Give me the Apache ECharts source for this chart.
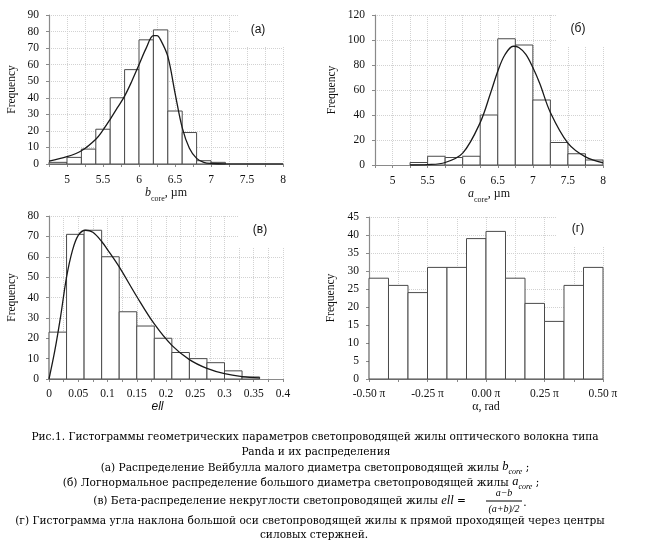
<!DOCTYPE html>
<html>
<head>
<meta charset="utf-8">
<script src="https://cdn.jsdelivr.net/npm/echarts@6/dist/echarts.min.js"></script>
<style>
  html, body { margin: 0; padding: 0; background: #fff; }
  #chart { width: 647px; height: 555px; }
</style>
</head>
<body>
<div id="chart"></div>
<script>
// (а) b_core histogram, bin edges and counts
var aEdges = [4.75, 5.0, 5.2, 5.4, 5.6, 5.8, 6.0, 6.2, 6.4, 6.6, 6.8, 7.0, 7.2];
var aCounts = [1, 4, 9, 21, 40, 57, 75, 81, 32, 19, 2, 1];
// Weibull fit
var aCurveX = [4.75, 5.0, 5.2, 5.4, 5.5, 5.6, 5.7, 5.8, 5.9, 6.0, 6.1, 6.2, 6.25, 6.3, 6.4, 6.5, 6.6, 6.7, 6.8, 6.9, 7.0, 7.2, 8.0];
var aCurveY = [1.8, 4.4, 8, 15, 20.5, 27, 34, 41, 50, 60, 70, 77.5, 77.5, 75, 65, 43, 22, 9.5, 3.4, 1, 0.3, 0, 0];

// (б) a_core histogram
var bEdges = [5.25, 5.5, 5.75, 6.0, 6.25, 6.5, 6.75, 7.0, 7.25, 7.5, 7.75, 8.0];
var bCounts = [2, 7, 6, 7, 40, 101, 96, 52, 18, 9, 4];
var bCurveX = [5.25, 5.5, 5.75, 6.0, 6.25, 6.4, 6.5, 6.6, 6.72, 6.8, 6.9, 7.0, 7.1, 7.25, 7.5, 7.75, 8.0];
var bCurveY = [0, 0.3, 2, 9.5, 34, 58, 75, 88, 95, 94, 88.5, 78, 65, 42, 17.5, 6.5, 1.8];

// (в) ellipticity histogram
var cEdges = [0, 0.03, 0.06, 0.09, 0.12, 0.15, 0.18, 0.21, 0.24, 0.27, 0.30, 0.33, 0.36];
var cCounts = [23, 71, 73, 60, 33, 26, 20, 13, 10, 8, 4, 1];
var cCurveX = [0, 0.01, 0.02, 0.03, 0.04, 0.05, 0.0625, 0.075, 0.09, 0.1, 0.12, 0.15, 0.18, 0.21, 0.24, 0.27, 0.30, 0.33, 0.36];
var cCurveY = [0, 14, 31, 50, 63, 70.5, 73, 72, 67.5, 63.5, 55, 40.5, 27, 16.5, 9.5, 5.2, 2.6, 1.2, 0.6];

// (г) angle histogram, x in units of pi
var dEdges = [-0.5, -0.4167, -0.3333, -0.25, -0.1667, -0.0833, 0, 0.0833, 0.1667, 0.25, 0.3333, 0.4167, 0.5];
var dCounts = [28, 26, 24, 31, 31, 39, 41, 28, 21, 16, 26, 31];

var panelLabels = ['(а)', '(б)', '(в)', '(г)'];

var captionLines = [
    'Рис.1. Гистограммы геометрических параметров светопроводящей жилы оптического волокна типа',
    'Panda и их распределения',
    '(а) Распределение Вейбулла малого диаметра светопроводящей жилы {i|b}{s|core} ;',
    '(б) Логнормальное распределение большого диаметра светопроводящей жилы {i|a}{s|core} ;',
    '(в) Бета-распределение некруглости светопроводящей жилы {e|ell} =',
    '(г) Гистограмма угла наклона большой оси светопроводящей жилы к прямой проходящей через центры',
    'силовых стержней.'
];
var fracTop = 'a−b';
var fracBottom = '(a+b)/2';

var SERIF = '"Liberation Serif", "Times New Roman", serif';
var CAP_FONT = '"DejaVu Serif", serif';
var CAP_SIZE = 10.6;

function binData(edges, counts) {
    return counts.map(function (c, i) { return [edges[i], edges[i + 1], c]; });
}
function pairs(xs, ys) {
    return xs.map(function (x, i) { return [x, ys[i]]; });
}

function renderBin(params, api) {
    var p0 = api.coord([api.value(0), api.value(2)]);
    var p1 = api.coord([api.value(1), 0]);
    return {
        type: 'rect',
        shape: { x: p0[0], y: p0[1], width: p1[0] - p0[0], height: p1[1] - p0[1] },
        style: { fill: '#fff', stroke: '#4a4a4a', lineWidth: 1 }
    };
}

function every(step, fmt) {
    return function (v) {
        var k = v / step;
        return Math.abs(k - Math.round(k)) < 1e-6 ? fmt(v) : '';
    };
}

var gridLine = { show: true, lineStyle: { color: '#d2d2d2', type: 'dotted', width: 1 } };
var axisLine = { show: true, onZero: false, lineStyle: { color: '#8a8a8a', width: 1.2 } };
var tick = { show: true, length: 3, lineStyle: { color: '#8a8a8a' } };
var tickFont = { fontFamily: SERIF, fontSize: 11.5, color: '#111' };

var subRich = {
    i: { fontFamily: SERIF, fontStyle: 'italic', fontSize: 12, color: '#111', verticalAlign: 'bottom', padding: [0, 0, 4, 0] },
    s: { fontFamily: SERIF, fontSize: 8, color: '#111', verticalAlign: 'bottom' },
    n: { fontFamily: SERIF, fontSize: 12, color: '#111', verticalAlign: 'bottom', padding: [0, 0, 4, 0] }
};

function xAxis(idx, min, max, interval, fmt, name, gap, margin, rich, nameStyle) {
    return {
        type: 'value', gridIndex: idx, min: min, max: max, interval: interval,
        axisLine: axisLine, axisTick: tick, splitLine: gridLine,
        axisLabel: Object.assign({ margin: margin, formatter: fmt, showMinLabel: true, showMaxLabel: true }, tickFont),
        name: name, nameLocation: 'middle', nameGap: gap,
        nameTextStyle: Object.assign({ rich: rich }, nameStyle || {})
    };
}
function yAxis(idx, max, interval, gap) {
    return {
        type: 'value', gridIndex: idx, min: 0, max: max, interval: interval,
        axisLine: axisLine, axisTick: tick, splitLine: gridLine,
        axisLabel: Object.assign({ margin: 10 }, tickFont),
        name: 'Frequency', nameLocation: 'middle', nameGap: gap,
        nameTextStyle: { fontFamily: SERIF, fontSize: 11.5, color: '#111' }
    };
}

var grids = [
    { left: 49, top: 15, width: 234, height: 149 },
    { left: 375, top: 15, width: 228, height: 150 },
    { left: 49, top: 216, width: 234, height: 163 },
    { left: 369, top: 217, width: 234, height: 162 }
];

var half = every(0.5, function (v) { return String(+v.toFixed(2)); });
var twentieth = every(0.05, function (v) { return String(+v.toFixed(2)); });
var quarterPi = every(0.25, function (v) { return v.toFixed(2) + ' π'; });

// white boxes behind the panel letters
var boxes = [
    { x: 238, y: 10, w: 50, h: 36, tx: 258, ty: 30 },
    { x: 556, y: 10, w: 50, h: 36, tx: 578, ty: 29 },
    { x: 238, y: 212, w: 50, h: 35, tx: 260, ty: 230 },
    { x: 556, y: 212, w: 50, h: 35, tx: 578, ty: 229 }
];
var graphics = [];
boxes.forEach(function (b, i) {
    graphics.push({ type: 'rect', z: 1, shape: { x: b.x, y: b.y, width: b.w, height: b.h }, style: { fill: '#fff' } });
    graphics.push({
        type: 'text', z: 10, x: b.tx, y: b.ty,
        style: { text: panelLabels[i], fontFamily: '"Liberation Sans", Arial, sans-serif', fontSize: 12, fill: '#111', textAlign: 'center', textVerticalAlign: 'middle' }
    });
});

var capRich = {
    i: { fontFamily: SERIF, fontStyle: 'italic', fontSize: 12.5, fill: '#000', verticalAlign: 'bottom', padding: [0, 0, 3, 0] },
    s: { fontFamily: SERIF, fontStyle: 'italic', fontSize: 8, fill: '#000', verticalAlign: 'bottom' },
    e: { fontFamily: SERIF, fontStyle: 'italic', fontSize: 12.5, fill: '#000' }
};
var capY = [437, 452, 468, 483, 501, 521, 535];
var capX = [315, 316, 315, 301, 466, 310, 314];
captionLines.forEach(function (t, i) {
    graphics.push({
        type: 'text', z: 10, x: capX[i], y: capY[i],
        style: {
            text: t, rich: capRich, fontFamily: CAP_FONT, fontSize: CAP_SIZE, fill: '#000',
            textAlign: i === 4 ? 'right' : 'center', textVerticalAlign: 'middle'
        }
    });
});
graphics.push({ type: 'text', z: 10, x: 504, y: 493, style: { text: fracTop, fontFamily: SERIF, fontStyle: 'italic', fontSize: 10, fill: '#000', textAlign: 'center', textVerticalAlign: 'middle' } });
graphics.push({ type: 'line', z: 10, shape: { x1: 486, y1: 501, x2: 522, y2: 501 }, style: { stroke: '#000', lineWidth: 1 } });
graphics.push({ type: 'text', z: 10, x: 504, y: 509, style: { text: fracBottom, fontFamily: SERIF, fontStyle: 'italic', fontSize: 10, fill: '#000', textAlign: 'center', textVerticalAlign: 'middle' } });
graphics.push({ type: 'text', z: 10, x: 525, y: 503, style: { text: '.', fontFamily: CAP_FONT, fontSize: CAP_SIZE, fill: '#000', textAlign: 'center', textVerticalAlign: 'middle' } });

function curve(idx, data) {
    return {
        type: 'line', xAxisIndex: idx, yAxisIndex: idx, data: data, smooth: 0.35,
        showSymbol: false, silent: true, z: 3,
        lineStyle: { color: '#1a1a1a', width: 1.3 }
    };
}
function hist(idx, data) {
    return {
        type: 'custom', xAxisIndex: idx, yAxisIndex: idx, renderItem: renderBin,
        encode: { x: [0, 1], y: 2 }, data: data, silent: true, z: 2
    };
}

var chart = echarts.init(document.getElementById('chart'), null, { renderer: 'canvas' });
chart.setOption({
    animation: false,
    backgroundColor: '#fff',
    grid: grids,
    xAxis: [
        xAxis(0, 4.75, 8, 0.25, half, '{i|b}{s|core}{n|, µm}', 19, 10, subRich),
        xAxis(1, 4.75, 8, 0.25, half, '{i|a}{s|core}{n|, µm}', 20, 10, subRich),
        xAxis(2, 0, 0.4, 0.025, twentieth, 'ell', 22, 9, null,
            { fontFamily: '"Liberation Sans", Arial, sans-serif', fontStyle: 'italic', fontSize: 12, color: '#111', padding: [0, 17, 0, 0] }),
        xAxis(3, -0.5, 0.5, 0.125, quarterPi, 'α, rad', 20, 9, null,
            { fontFamily: SERIF, fontSize: 12, color: '#111' })
    ],
    yAxis: [
        yAxis(0, 90, 10, 31),
        yAxis(1, 120, 20, 37),
        yAxis(2, 80, 10, 31),
        yAxis(3, 45, 5, 32)
    ],
    graphic: { elements: graphics },
    series: [
        hist(0, binData(aEdges, aCounts)),
        curve(0, pairs(aCurveX, aCurveY)),
        hist(1, binData(bEdges, bCounts)),
        curve(1, pairs(bCurveX, bCurveY)),
        hist(2, binData(cEdges, cCounts)),
        curve(2, pairs(cCurveX, cCurveY)),
        hist(3, binData(dEdges, dCounts))
    ]
});
</script>
</body>
</html>
